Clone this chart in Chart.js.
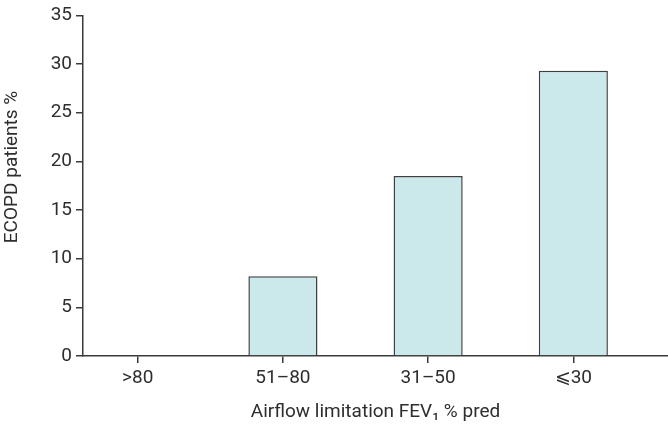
<!DOCTYPE html>
<html>
<head>
<meta charset="utf-8">
<script src="https://cdn.jsdelivr.net/npm/chart.js@4/dist/chart.umd.min.js"></script>
<style>
    html, body { margin: 0; padding: 0; background: #fff; }
    #wrap { width: 668px; height: 424px; }
</style>
</head>
<body>
<div id="wrap"><canvas id="myChart" width="668" height="424"></canvas></div>
<script>
// values
const categories = ['>80', '51–80', '31–50', '⩽30'];
const patientsPct = [0, 8.2, 18.5, 29.3];
const yTickStep = 5;
const yMax = 35;

const axisColor = '#3a3a3a';
const textColor = '#2e2e2e';
const fontFamily = 'Roboto, "Open Sans", sans-serif';

document.addEventListener("DOMContentLoaded", function() {
    const ctx = document.getElementById('myChart').getContext('2d');

    const points = categories.map((c, i) => ({ x: i, y: patientsPct[i] }));

    // y title sits a bit above the middle of the axis in the original
    const drawYTitle = {
        id: 'yTitle',
        afterDraw: (chart) => {
            const c = chart.ctx;
            const area = chart.chartArea;
            c.save();
            c.translate(12, area.top + (area.bottom - area.top) * 0.445);
            c.rotate(-Math.PI / 2);
            c.textAlign = 'center';
            c.textBaseline = 'middle';
            c.font = '19px ' + fontFamily;
            c.fillStyle = textColor;
            c.fillText('ECOPD patients %', 0, 0);
            c.restore();
        }
    };

    new Chart(ctx, {
        type: 'bar',
        data: {
            datasets: [{
                label: 'ECOPD patients %',
                data: points,
                backgroundColor: '#cbe8ea',
                borderColor: '#404040',
                borderWidth: 1.5,
                barPercentage: 0.476,
                categoryPercentage: 1
            }]
        },
        options: {
            responsive: false,
            animation: false,
            devicePixelRatio: 1,
            layout: { padding: 0 },
            plugins: {
                legend: { display: false },
                tooltip: { enabled: false }
            },
            scales: {
                x: {
                    type: 'linear',
                    offset: false,
                    min: -0.377,
                    max: 3.652,
                    afterBuildTicks: (scale) => {
                        scale.ticks = categories.map((c, i) => ({ value: i }));
                    },
                    afterFit: (scale) => { scale.height = 68; },
                    ticks: {
                        callback: (v) => categories[v],
                        color: textColor,
                        font: { size: 19, family: fontFamily },
                        padding: 4,
                        maxRotation: 0
                    },
                    grid: {
                        offset: false,
                        drawOnChartArea: false,
                        tickLength: 7,
                        color: axisColor,
                        lineWidth: 1.5
                    },
                    border: { color: axisColor, width: 1.5 },
                    title: {
                        display: true,
                        text: 'Airflow limitation FEV₁ % pred',
                        color: textColor,
                        font: { size: 19, family: fontFamily },
                        padding: { top: 0, bottom: 0 }
                    }
                },
                y: {
                    min: 0,
                    max: yMax,
                    afterFit: (scale) => { scale.width = 83; },
                    ticks: {
                        stepSize: yTickStep,
                        color: textColor,
                        font: { size: 19, family: fontFamily },
                        padding: 4
                    },
                    grid: {
                        drawOnChartArea: false,
                        tickLength: 7,
                        color: axisColor,
                        lineWidth: 1.5
                    },
                    border: { color: axisColor, width: 1.5 },
                    title: { display: false }
                }
            }
        },
        plugins: [drawYTitle]
    });
});
</script>
</body>
</html>
